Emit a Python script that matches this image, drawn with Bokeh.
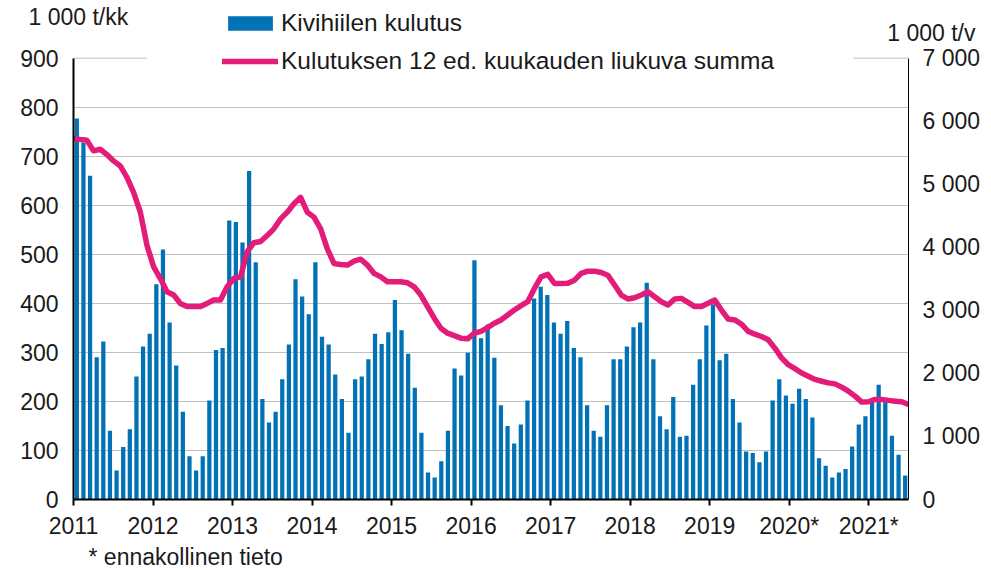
import numpy as np
from bokeh.plotting import figure
from bokeh.models import (Range1d, LinearAxis, FixedTicker, Legend, LegendItem, Title)
from bokeh.embed import file_html
from bokeh.resources import INLINE

# ---------------- data ----------------
year_labels = ["2011", "2012", "2013", "2014", "2015", "2016", "2017",
               "2018", "2019", "2020*", "2021*"]

# Kivihiilen kulutus, 1 000 t / month, Jan 2011 .. Jun 2021
kulutus = [
    777, 728, 660, 290, 322, 140, 59, 107, 143, 251, 312, 338,
    439, 510, 361, 273, 179, 88, 59, 88, 202, 305, 309, 569,
    566, 524, 670, 484, 205, 157, 179, 245, 316, 449, 414, 378,
    484, 332, 316, 255, 205, 136, 245, 251, 286, 338, 317, 341,
    407, 345, 297, 228, 136, 55, 45, 78, 140, 267, 253, 299,
    488, 329, 357, 289, 192, 150, 114, 153, 202, 410, 434, 417,
    361, 338, 364, 309, 290, 192, 140, 128, 192, 286, 286, 312,
    351, 361, 442, 286, 170, 143, 209, 128, 130, 234, 286, 355,
    398, 284, 297, 205, 157, 98, 95, 76, 98, 202, 245, 212,
    195, 226, 205, 167, 84, 69, 45, 55, 62, 108, 153, 170,
    201, 234, 201, 130, 91, 49,
]

# Kulutuksen 12 ed. kuukauden liukuva summa, 1 000 t / year
summa = [
    5725, 5710, 5700, 5530, 5555, 5470, 5370, 5290, 5110, 4870, 4560, 4030,
    3690, 3505, 3295, 3243, 3110, 3060, 3060, 3060, 3110, 3165, 3165, 3375,
    3505, 3530, 3930, 4073, 4093, 4188, 4293, 4450, 4557, 4690, 4793, 4557,
    4479, 4293, 3977, 3741, 3726, 3718, 3780, 3811, 3718, 3586, 3531, 3453,
    3453, 3453, 3437, 3374, 3243, 3060, 2875, 2716, 2638, 2600, 2559, 2548,
    2638, 2666, 2727, 2795, 2848, 2926, 3005, 3075, 3137, 3347, 3531, 3570,
    3427, 3427, 3430, 3479, 3586, 3622, 3622, 3600, 3557, 3401, 3243, 3180,
    3200, 3243, 3295, 3216, 3137, 3085, 3180, 3190, 3127, 3060, 3060, 3112,
    3164, 3005, 2863, 2848, 2780, 2666, 2622, 2585, 2533, 2400, 2246, 2138,
    2075, 2007, 1955, 1904, 1876, 1850, 1834, 1782, 1718, 1640, 1545, 1550,
    1588, 1588, 1572, 1560, 1550, 1508,
]

left_ticks = list(range(0, 901, 100))
right_ticks = list(range(0, 7001, 1000))
left_max, right_max = 900, 7000

# ---------------- style ----------------
FONT = "Liberation Sans"
FS = "23px"
FS_LEG = "24.5px"
TXT = "#1a1a1a"
BLUE = "#0072B5"
PINK = "#E31C79"
GRID = "#c0c0c0"

W, H = 991, 570
FRAME_L, FRAME_R, FRAME_B = 73, 908, 502
AXIS_PX = 444                       # pixel height of the 0..900 scale
frame_h = FRAME_B                   # frame runs from the top of the canvas
y_end = left_max * frame_h / AXIS_PX
r_end = right_max * frame_h / AXIS_PX

n = len(kulutus)
xb = np.arange(n) + 0.5                 # bar centres (category slots)
xl = np.arange(n) * n / (n - 1)         # line on "on tick marks" secondary axis

p = figure(width=W, height=H, output_backend="svg", toolbar_location=None,
           x_range=Range1d(0, n), y_range=Range1d(0, y_end),
           min_border_left=FRAME_L, min_border_right=W - FRAME_R,
           min_border_top=0, min_border_bottom=H - FRAME_B,
           outline_line_color=None, background_fill_color="white",
           border_fill_color="white")
p.extra_y_ranges = {"right": Range1d(0, r_end)}

# grid
p.xgrid.visible = False
p.ygrid.ticker = FixedTicker(ticks=left_ticks[1:-1])
p.ygrid.grid_line_color = GRID
p.ygrid.grid_line_width = 1
# top gridline only where the legend box does not cover it
p.segment(x0=[0, 117.7], y0=[left_max, left_max], x1=[11.1, n], y1=[left_max, left_max],
          line_color=GRID, line_width=1)

# x axis
year_ticks = [12 * i for i in range(len(year_labels))]
xa = p.xaxis[0]
xa.ticker = FixedTicker(ticks=year_ticks)
xa.major_label_overrides = {t: l for t, l in zip(year_ticks, year_labels)}
xa.axis_line_color = "black"
xa.axis_line_width = 2
xa.major_tick_line_color = "black"
xa.major_tick_line_width = 2
xa.major_tick_in = 0
xa.major_tick_out = 6
xa.minor_tick_line_color = None
xa.major_label_standoff = 7
xa.major_label_text_font = FONT
xa.major_label_text_font_size = FS
xa.major_label_text_color = TXT

# left axis
ya = p.yaxis[0]
ya.ticker = FixedTicker(ticks=left_ticks)
ya.bounds = (0, left_max)
ya.axis_line_color = "black"
ya.axis_line_width = 2
ya.major_tick_line_color = None
ya.minor_tick_line_color = None
ya.major_tick_in = 0
ya.major_tick_out = 0
ya.major_label_standoff = 15
ya.major_label_text_font = FONT
ya.major_label_text_font_size = FS
ya.major_label_text_color = TXT

# right axis
ra = LinearAxis(y_range_name="right", ticker=FixedTicker(ticks=right_ticks),
                bounds=(0, right_max))
ra.major_label_overrides = {t: (f"{t:,}".replace(",", " ")) for t in right_ticks}
ra.axis_line_color = "black"
ra.axis_line_width = 1
ra.major_tick_line_color = None
ra.minor_tick_line_color = None
ra.major_tick_in = 0
ra.major_tick_out = 0
ra.major_label_standoff = 14
ra.major_label_text_font = FONT
ra.major_label_text_font_size = FS
ra.major_label_text_color = TXT
p.add_layout(ra, "right")

# data
r_bar = p.vbar(x=xb, top=kulutus, width=0.64, fill_color=BLUE, line_color=None)
r_line = p.line(x=xl, y=summa, y_range_name="right", line_color=PINK,
                line_width=5.5, line_join="round", line_cap="round")

# legend
legend = Legend(items=[LegendItem(label="Kivihiilen kulutus", renderers=[r_bar]),
                       LegendItem(label="Kulutuksen 12 ed. kuukauden liukuva summa",
                                  renderers=[r_line])],
                location=(149, 424), orientation="vertical",
                glyph_width=56, glyph_height=18, label_standoff=3,
                label_height=28, spacing=10, padding=4, margin=0,
                label_text_font=FONT, label_text_font_size=FS_LEG,
                label_text_color=TXT, background_fill_color="white",
                background_fill_alpha=1, border_line_color=None)
p.add_layout(legend)

# unit titles (side-panel titles, pulled down over the top strip)
common = dict(text_font=FONT, text_font_size=FS, text_font_style="normal",
              text_color=TXT)
p.add_layout(Title(text="1 000 t/kk", align="left", offset=-45, standoff=-59,
                   **common), "above")
p.add_layout(Title(text="1 000 t/v", align="right", offset=-67, standoff=-90,
                   **common), "above")
# footnote
p.add_layout(Title(text="* ennakollinen  tieto", align="left", offset=15, standoff=1,
                   **common), "below")

open("out.html", "w").write(file_html(p, INLINE))
